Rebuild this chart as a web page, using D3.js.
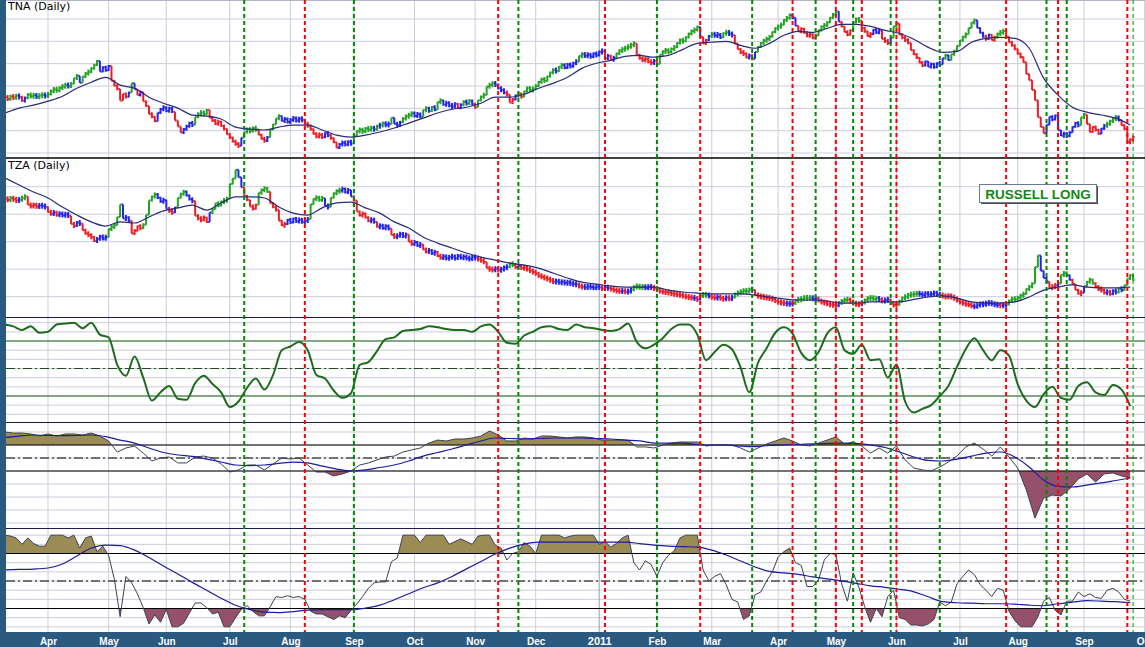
<!DOCTYPE html>
<html>
<head>
<meta charset="utf-8">
<script src="https://cdn.jsdelivr.net/npm/d3@7.9.0/dist/d3.min.js"></script>
<style>
  html, body { margin: 0; padding: 0; background: #fff; }
  svg { display: block; }
</style>
</head>
<body>
<svg id="chart" width="1145" height="647"></svg>
<script>
// ---- data ----
// daily closes, one per trading day starting 2010-03-11
const tnaClose = [
  55.0,54.2,55.3,54.8,55.6,55.1,53.4,54.6,56.2,55.4,
  55.9,55.2,55.7,56.0,55.6,56.3,57.8,58.6,58.0,59.2,
  59.8,60.5,59.9,61.0,63.5,64.6,61.4,64.2,65.6,66.4,
  67.8,69.4,71.2,66.5,68.4,67.1,69.0,62.3,60.1,58.7,
  53.5,56.4,55.2,57.1,61.2,58.6,56.0,57.3,53.2,51.0,
  47.5,46.2,44.2,48.0,49.6,50.4,48.8,49.9,48.5,44.6,
  41.9,39.2,40.6,42.0,43.4,42.6,46.1,47.6,48.0,47.4,
  49.3,45.8,44.6,43.2,44.0,42.1,40.8,38.4,36.9,35.2,
  34.0,33.2,36.8,39.5,40.6,39.8,41.2,40.5,38.2,36.4,
  35.5,37.0,40.5,42.8,45.4,46.6,44.4,45.2,43.9,44.8,
  45.6,44.5,45.3,44.9,43.0,42.2,40.6,38.6,37.4,38.2,
  37.0,38.8,38.0,36.6,34.8,32.4,33.9,34.6,33.8,35.0,
  34.2,37.6,39.8,40.4,39.6,41.0,40.5,41.2,40.6,42.0,
  42.4,43.2,42.6,42.9,45.8,43.0,42.4,43.8,45.5,46.4,
  47.0,47.8,46.6,47.4,46.2,49.2,50.0,48.8,50.6,49.4,
  52.8,53.5,51.6,52.4,51.2,50.8,52.0,50.2,51.6,53.0,
  52.2,53.4,51.8,50.6,53.6,55.2,56.0,59.8,60.4,61.2,
  60.6,59.0,58.2,57.0,56.2,52.6,54.0,55.8,56.4,55.2,
  57.6,59.2,58.0,58.8,60.0,61.8,63.0,62.4,64.2,66.0,
  67.2,66.6,68.6,69.4,68.2,69.6,68.8,70.2,71.0,73.4,
  74.2,73.6,74.0,73.2,74.4,73.8,75.2,75.6,72.4,73.6,
  71.8,72.6,74.6,75.8,76.4,77.0,77.6,78.4,79.0,73.8,
  72.4,71.6,72.2,70.8,70.4,71.2,69.8,74.0,75.4,76.0,
  75.2,76.6,77.4,79.2,80.6,80.0,81.8,83.4,84.6,85.2,
  86.4,82.0,79.0,80.6,82.4,83.2,82.6,83.0,81.8,83.6,
  84.0,83.4,82.8,79.0,76.4,75.0,74.6,72.8,73.6,72.2,
  75.2,77.6,79.2,80.4,81.0,82.0,84.2,85.8,86.6,87.4,
  89.6,90.4,91.8,90.6,87.0,84.4,85.6,83.8,82.6,83.2,
  81.4,82.6,85.0,86.6,87.2,88.4,90.6,92.0,93.4,88.8,
  86.6,84.2,83.0,85.0,88.6,90.0,89.2,86.0,84.4,82.4,
  83.2,85.2,84.0,85.0,81.0,80.2,79.2,81.6,86.8,88.0,
  83.0,81.6,80.6,79.4,76.0,74.2,72.6,70.4,69.2,71.0,
  68.6,69.8,68.4,70.2,69.6,72.4,73.8,71.6,74.2,75.6,
  78.0,80.4,82.0,83.2,86.0,88.4,89.4,86.0,83.8,82.2,
  81.0,83.0,80.6,81.8,83.4,84.0,84.6,82.0,79.6,78.2,
  76.4,74.4,73.0,70.6,65.4,62.6,58.2,53.6,46.0,41.6,
  38.8,42.6,46.2,45.0,46.8,40.2,37.8,38.6,37.6,39.2,
  41.8,43.4,42.4,46.0,47.2,43.0,39.4,41.6,40.4,38.6,
  41.0,42.2,43.0,44.2,45.4,46.0,44.8,42.4,40.6,34.8,
  35.8,37.2
];
const tzaClose = [
  45.6,45.2,45.8,45.4,45.0,45.3,45.9,46.4,43.4,43.0,
  43.4,42.8,43.2,43.0,42.6,40.8,40.2,40.6,39.8,40.2,
  39.6,40.0,39.4,36.4,35.8,37.0,36.6,34.2,33.0,32.4,
  31.6,30.3,31.0,31.8,31.2,31.6,34.6,35.4,36.0,39.0,
  43.5,38.4,38.8,37.6,33.0,34.0,35.6,35.0,36.2,39.8,
  45.0,46.4,47.2,46.0,44.6,45.2,42.0,41.2,40.6,42.4,
  46.0,47.4,48.2,46.8,45.4,44.8,39.4,38.4,38.0,38.8,
  37.2,40.6,41.8,44.0,43.2,44.6,45.0,45.6,51.0,53.0,
  56.2,53.4,49.8,46.6,45.2,42.8,42.0,43.4,47.8,48.8,
  49.4,48.2,44.0,42.6,41.6,37.6,36.0,36.4,38.0,37.0,
  38.4,37.4,38.0,37.2,37.6,38.2,43.6,45.6,46.0,45.2,
  45.8,43.0,42.6,46.0,47.6,48.4,48.6,49.2,48.0,48.8,
  46.4,45.0,41.0,39.6,40.2,38.8,37.6,38.0,37.2,35.4,
  35.8,35.0,35.6,34.8,32.4,31.8,32.2,32.8,32.0,32.6,
  30.0,29.2,29.8,28.6,29.0,27.2,26.4,26.8,25.8,26.2,
  24.8,24.2,24.6,24.0,24.4,24.6,24.0,24.8,24.2,24.5,
  24.0,23.8,24.4,24.2,23.6,23.2,22.6,20.4,20.0,19.8,
  20.2,19.6,20.0,20.6,20.8,22.0,21.6,20.8,21.2,20.4,
  20.6,20.0,19.4,19.0,18.4,17.6,17.2,16.8,16.4,16.0,
  15.4,15.6,15.2,15.4,15.0,15.2,14.8,14.6,14.4,13.8,
  13.6,13.4,13.7,13.5,13.3,13.6,13.4,13.0,13.4,13.2,
  12.8,12.4,12.2,12.0,12.1,11.8,11.9,12.6,13.6,13.8,
  13.4,13.6,13.2,13.6,13.4,13.0,12.6,12.0,11.8,11.6,
  11.5,11.2,11.0,10.8,10.6,10.2,10.0,9.8,9.6,9.4,
  9.0,10.4,10.8,10.6,10.2,9.8,9.6,9.9,9.4,9.2,
  9.6,9.3,9.8,11.0,11.4,11.8,12.2,12.0,12.6,12.4,
  10.6,10.2,10.0,9.8,9.6,9.4,9.2,8.4,8.0,7.8,
  7.6,7.5,7.4,7.6,8.6,9.0,9.2,9.6,9.4,9.6,
  9.2,9.3,8.6,8.0,7.8,7.4,7.2,7.0,6.8,7.8,
  8.4,8.8,9.0,8.2,7.6,7.2,7.4,7.8,8.8,9.4,
  9.6,9.2,9.4,9.0,8.4,8.8,9.0,7.4,7.0,7.2,
  8.4,9.6,10.0,10.6,10.8,11.0,11.2,11.0,10.6,11.2,
  10.8,11.0,11.4,10.8,10.6,10.2,10.0,10.4,9.8,9.4,
  8.6,8.0,7.6,7.3,7.2,6.6,6.4,7.0,7.4,7.2,
  7.6,7.8,7.4,7.2,7.0,6.8,7.0,7.2,8.6,9.2,
  9.0,9.6,10.4,11.0,12.8,13.6,14.8,20.8,25.0,19.4,
  16.8,15.4,13.2,13.6,14.2,14.8,18.0,18.6,17.8,16.2,
  14.6,12.4,11.2,11.4,13.8,15.4,16.2,14.8,13.6,12.8,
  12.4,11.4,11.8,11.0,12.2,11.6,13.0,12.4,14.2,16.6,
  17.8,16.1
];

// moving averages, one value every maStep trading days
const maStep = 5;
const tnaMA = [
  47.9,50.1,51.4,53.2,55.4,59.0,61.7,63.9,60.4,59.0,
  55.0,52.3,50.1,47.0,46.5,45.2,41.6,40.7,40.3,41.6,
  42.5,42.5,40.3,38.0,37.1,38.0,39.4,41.2,43.4,45.6,
  47.9,49.6,50.5,52.3,55.0,55.0,56.3,59.0,61.2,63.9,
  67.9,70.2,71.5,73.3,73.7,72.9,73.7,76.4,79.1,79.6,
  80.0,78.2,76.9,79.1,82.7,84.5,84.0,85.8,87.6,87.6,
  86.7,84.9,83.6,80.9,77.3,75.1,75.5,79.6,81.3,81.8,
  81.3,76.9,63.5,55.9,50.5,48.3,47.0,45.6,42.5
];
const tzaMA = [
  53.2,50.6,48.1,45.9,42.6,39.7,37.2,35.7,37.2,36.8,
  39.0,41.2,42.3,43.3,41.5,44.1,46.3,46.3,45.9,42.6,
  40.4,39.7,42.3,44.1,44.4,42.3,40.4,37.2,35.0,31.7,
  29.5,27.7,25.9,24.4,23.3,22.2,21.5,20.4,18.6,16.8,
  15.3,14.6,13.9,13.5,13.5,13.5,12.4,11.7,11.3,11.0,
  11.0,11.0,10.6,9.9,9.2,8.8,8.8,8.4,7.7,7.7,
  8.1,8.1,8.1,9.0,9.9,10.3,9.5,8.1,7.7,7.7,
  8.1,9.9,12.4,13.5,14.3,13.5,13.2,13.2,13.5
];

// smoothed oscillator (0-100), one value every oscStep days
const oscStep = 3;
const osc = [
  98,96,92,96,89,90,98,99,100,94,
  100,87,84,54,42,63,40,15,24,31,
  17,16,34,42,33,24,8,14,29,39,
  27,43,70,74,79,70,43,39,26,18,
  23,54,57,69,82,84,91,92,93,96,
  95,93,92,92,90,96,98,90,78,77,
  86,90,95,96,93,92,98,95,94,92,
  91,93,99,79,72,76,83,93,98,98,
  87,59,68,76,71,51,24,56,72,89,
  95,88,67,59,68,88,95,70,66,76,
  59,60,40,54,14,2,6,10,20,31,
  52,71,83,70,59,70,64,33,15,8,
  22,30,18,16,31,35,24,21,32,27,
  9
];

// commodity-channel style indicator, every cciStep days; signal every 5 days
const cciStep = 3;
const cci = [
  200,192,192,185,169,185,169,185,185,177,
  192,169,131,46,77,92,38,-23,0,8,
  -38,-38,8,15,0,-46,-108,-92,-54,-54,
  -92,-46,0,-8,0,-54,-108,-108,-138,-123,
  -100,-54,-38,-15,8,15,46,62,77,115,
  138,131,146,146,154,169,208,177,131,131,
  154,146,169,169,162,154,162,162,154,138,
  138,138,138,85,85,77,100,115,123,123,
  123,92,100,100,100,77,46,77,108,131,
  154,131,100,92,115,138,162,108,123,92,
  38,77,38,92,-15,-77,-92,-100,-69,-31,
  15,85,115,69,15,85,8,-77,-246,-462,
  -308,-285,-292,-238,-162,-123,-185,-123,-115,-138,
  -154
];
const sigStep = 5;
const cciSignal = [
  158,169,177,173,172,173,177,165,138,115,
  77,42,23,12,-8,-31,-54,-58,-54,-42,
  -31,-38,-62,-85,-100,-92,-73,-54,-23,15,
  42,69,100,131,154,150,146,150,154,154,
  154,150,146,138,131,115,115,115,104,100,
  100,92,88,96,100,104,108,112,115,112,
  100,81,46,8,-19,-23,-8,15,38,46,
  8,-69,-169,-219,-223,-208,-192,-173,-154
];

// stochastic (0-100), every stochStep days; signal every 5 days
const stochStep = 2;
const stoch = [
  100,99,97,90,97,91,88,88,100,100,
  100,97,100,86,97,99,82,88,78,52,
  11,55,48,36,21,3,13,5,19,0,
  0,4,15,26,26,21,14,16,0,0,
  10,19,23,17,12,12,22,33,32,34,
  32,33,30,17,14,14,11,8,12,10,
  18,25,33,42,48,49,49,71,75,100,
  100,100,92,100,100,100,100,90,93,96,
  93,90,99,100,100,89,86,73,80,82,
  92,88,80,100,100,100,100,97,99,100,
  100,100,100,90,93,87,91,97,100,70,
  62,72,68,55,70,78,83,97,100,100,
  100,62,50,55,58,46,30,27,8,12,
  35,38,50,60,76,82,86,70,67,44,
  44,51,73,80,79,47,28,59,43,22,
  5,20,11,33,40,10,8,2,2,1,
  3,8,27,23,27,47,55,62,57,46,
  40,33,42,40,17,7,0,0,0,11,
  28,32,18,13,28,28,38,33,36,32,
  31,40,42,38,30,28
];
const stochSignal = [
  62,62.6,63,64.2,68.6,77.2,86,89.2,88.6,83.7,
  75.6,66.4,57.7,48.5,39.9,31.2,23.6,18.7,16,15.5,
  16.6,18.2,18.7,18.7,18.7,20.4,23.6,29.6,36.1,42.6,
  48,55,63.2,71.3,79.4,85.9,90.2,92.4,92.4,92.4,
  92.4,92.4,92.4,92.4,90.8,89.2,88.1,87.5,87,83.7,
  78.3,71.8,65.3,60.5,58.8,57.2,54.5,52.3,50.2,47.5,
  44.7,43.1,41,38.2,32.8,27.4,26.3,25.8,25.2,25.2,
  24.7,23.6,23,25.2,26.9,28.5,28,27.4,26.3
];

// trade signals (trading-day index)
const buySignals = [83,121,178,226,259,281,294,307,324,361,368,391];
const sellSignals = [104,171,208,241,273,288,297,309,347,365,389];

const tickLabels = ["Apr","May","Jun","Jul","Aug","Sep","Oct","Nov","Dec","2011",
                    "Feb","Mar","Apr","May","Jun","Jul","Aug","Sep","Oct"];
const holidays = ["2010-04-02","2010-05-31","2010-07-05","2010-09-06","2010-11-25","2010-12-24",
                  "2011-01-17","2011-02-21","2011-04-22","2011-05-30","2011-07-04","2011-09-05"];

// ---- layout ----
const W = 1145, H = 647, plotL = 6, bandTop = 632;
const svg = d3.select("#chart");
const defs = svg.append("defs");

const iso = d3.utcFormat("%Y-%m-%d");
const tradingDays = d3.utcDays(new Date(Date.UTC(2010, 2, 11)), new Date(Date.UTC(2011, 9, 5)))
  .filter(d => d.getUTCDay() !== 0 && d.getUTCDay() !== 6 && !holidays.includes(iso(d)));
const monthStarts = d3.range(1, tradingDays.length)
  .filter(i => tradingDays[i].getUTCMonth() !== tradingDays[i - 1].getUTCMonth());

const x = d3.scaleLinear().domain([0, tnaClose.length - 1]).range([4.7, 1133.1]);

const panels = [
  { top: 0, bottom: 158 },
  { top: 158, bottom: 317 },
  { top: 317, bottom: 422 },
  { top: 422, bottom: 528 },
  { top: 528, bottom: bandTop }
];
const yTna = d3.scaleLinear().domain([30, 90]).range([153, 19]);
const yTza = d3.scaleLinear().domain([10, 50]).range([296.7, 186.7]);
const yOsc = d3.scaleLinear().domain([20, 80]).range([396, 341]);
const yCci = d3.scaleLinear().domain([-100, 100]).range([471, 445]);
const ySto = d3.scaleLinear().domain([20, 80]).range([608.5, 553.5]);

const col = {
  grid: "#ccccdc", gridYear: "#9a9aae", navy: "#1b1b52",
  up: "#22a322", down: "#ee1c24", flat: "#2424ee",
  ma: "#2a2a7a", osc: "#1e6b1e", ind: "#3c4250", sig: "#1c1ca0",
  olive: "#9a8c54", maroon: "#95506a", frame: "#2b5a80"
};

svg.append("rect").attr("width", W).attr("height", H).attr("fill", "#fff");

// horizontal grid per panel
const gridRows = [
  [yTna, d3.range(30, 100, 10)],
  [yTza, d3.range(10, 60, 10)],
  [yOsc, d3.range(0, 101, 10)],
  [yCci, d3.range(-500, 201, 100)],
  [ySto, d3.range(0, 101, 10)]
];
const gGrid = svg.append("g");
gridRows.forEach(([y, ticks], k) => {
  const p = panels[k];
  gGrid.selectAll(null).data(ticks.map(y).filter(v => v > p.top + 1 && v < p.bottom - 1))
    .join("line")
    .attr("x1", plotL).attr("x2", W).attr("y1", d => d).attr("y2", d => d)
    .attr("stroke", col.grid).attr("stroke-width", 1);
});
// vertical month grid
gGrid.selectAll(null).data(monthStarts).join("line")
  .attr("x1", d => x(d)).attr("x2", d => x(d)).attr("y1", 0).attr("y2", bandTop)
  .attr("stroke", d => tradingDays[d].getUTCMonth() === 0 ? col.gridYear : col.grid)
  .attr("stroke-width", 1);
svg.append("line").attr("x1", plotL).attr("x2", W).attr("y1", 0.5).attr("y2", 0.5)
  .attr("stroke", "#b4b4c4");

// clip groups per panel
const panelG = panels.map((p, k) => {
  defs.append("clipPath").attr("id", "clip" + k).append("rect")
    .attr("x", plotL).attr("y", p.top).attr("width", W - plotL).attr("height", p.bottom - p.top);
  return svg.append("g").attr("clip-path", `url(#clip${k})`);
});

// ---- price bars (elder impulse colouring) ----
function ema(arr, n) {
  const k = 2 / (n + 1), out = [];
  arr.forEach((v, i) => out.push(i ? out[i - 1] + k * (v - out[i - 1]) : v));
  return out;
}
function impulse(close) {
  const e13 = ema(close, 13), e12 = ema(close, 12), e26 = ema(close, 26);
  const macd = e12.map((v, i) => v - e26[i]);
  const sig = ema(macd, 9);
  const hist = macd.map((v, i) => v - sig[i]);
  return close.map((c, i) => {
    if (!i) return col.flat;
    const a = e13[i] > e13[i - 1], b = hist[i] > hist[i - 1];
    if (a && b) return col.up;
    if (!a && !b) return col.down;
    return col.flat;
  });
}
function drawBars(g, close, y) {
  const colors = impulse(close);
  const bars = close.map((c, i) => ({ i, o: i ? close[i - 1] : c, c, color: colors[i] }));
  g.selectAll("path.bar").data(bars).join("path")
    .attr("class", "bar")
    .attr("fill", "none")
    .attr("stroke", d => d.color)
    .attr("stroke-width", 2)
    .attr("d", d => {
      const xi = x(d.i);
      let y1 = y(Math.max(d.o, d.c)), y2 = y(Math.min(d.o, d.c));
      if (y2 - y1 < 6) { const m = (y1 + y2) / 2; y1 = m - 3; y2 = m + 3; }
      return `M${xi},${y1}V${y2}M${xi - 1.4},${y(d.o)}H${xi}M${xi},${y(d.c)}H${xi + 1.4}`;
    });
}
const lineFor = (y, step, curve) => d3.line().x((d, i) => x(i * step)).y(d => y(d)).curve(curve);

drawBars(panelG[0], tnaClose, yTna);
panelG[0].append("path").attr("fill", "none").attr("stroke", col.ma).attr("stroke-width", 1.2)
  .attr("d", lineFor(yTna, maStep, d3.curveMonotoneX)(tnaMA));
drawBars(panelG[1], tzaClose, yTza);
panelG[1].append("path").attr("fill", "none").attr("stroke", col.ma).attr("stroke-width", 1.2)
  .attr("d", lineFor(yTza, maStep, d3.curveMonotoneX)(tzaMA));

// ---- oscillator panel ----
function hline(g, yv, color, dash, w) {
  g.append("line").attr("x1", plotL).attr("x2", W).attr("y1", yv).attr("y2", yv)
    .attr("stroke", color).attr("stroke-width", w || 1)
    .attr("stroke-dasharray", dash || null);
}
const dashDot = "9,3,2,3";
hline(panelG[2], yOsc(80), col.osc);
hline(panelG[2], yOsc(20), col.osc);
hline(panelG[2], yOsc(50), "#1e4a1e", dashDot);
panelG[2].append("path").attr("fill", "none").attr("stroke", col.osc).attr("stroke-width", 2)
  .attr("d", lineFor(yOsc, oscStep, d3.curveMonotoneX)(osc));

// ---- filled indicator panels ----
function thresholdFill(g, data, step, y, thr, above, color, id, p) {
  const yt = y(thr);
  defs.append("clipPath").attr("id", id).append("rect")
    .attr("x", 0).attr("width", W)
    .attr("y", above ? p.top : yt).attr("height", above ? yt - p.top : p.bottom - yt);
  g.append("path").attr("clip-path", `url(#${id})`).attr("fill", color)
    .attr("d", d3.area().x((d, i) => x(i * step)).y0(yt).y1(d => y(d))(data));
}
thresholdFill(panelG[3], cci, cciStep, yCci, 100, true, col.olive, "cciUp", panels[3]);
thresholdFill(panelG[3], cci, cciStep, yCci, -100, false, col.maroon, "cciDn", panels[3]);
hline(panelG[3], yCci(100), "#000");
hline(panelG[3], yCci(-100), "#000");
hline(panelG[3], yCci(0), "#000", dashDot);
panelG[3].append("path").attr("fill", "none").attr("stroke", col.ind).attr("stroke-width", 1)
  .attr("d", lineFor(yCci, cciStep, d3.curveLinear)(cci));
panelG[3].append("path").attr("fill", "none").attr("stroke", col.sig).attr("stroke-width", 1.2)
  .attr("d", lineFor(yCci, sigStep, d3.curveMonotoneX)(cciSignal));

thresholdFill(panelG[4], stoch, stochStep, ySto, 80, true, col.olive, "stoUp", panels[4]);
thresholdFill(panelG[4], stoch, stochStep, ySto, 20, false, col.maroon, "stoDn", panels[4]);
hline(panelG[4], ySto(80), "#000");
hline(panelG[4], ySto(20), "#000");
hline(panelG[4], ySto(50), "#000", dashDot);
panelG[4].append("path").attr("fill", "none").attr("stroke", col.ind).attr("stroke-width", 1)
  .attr("d", lineFor(ySto, stochStep, d3.curveLinear)(stoch));
panelG[4].append("path").attr("fill", "none").attr("stroke", col.sig).attr("stroke-width", 1.2)
  .attr("d", lineFor(ySto, sigStep, d3.curveMonotoneX)(stochSignal));

// panel borders
svg.append("line").attr("x1", plotL).attr("x2", W).attr("y1", 158).attr("y2", 158)
  .attr("stroke", "#000").attr("stroke-width", 1.5);
[317, 422, 528].forEach(v => hline(svg, v + 0.5, col.navy));

// ---- signal lines ----
const lastBar = tnaClose.length - 1;
svg.append("g").selectAll("line")
  .data(sellSignals.map(i => ({ i, c: "#ff0000" })).concat(buySignals.map(i => ({ i, c: "#008a00" }))))
  .join("line")
  .attr("x1", d => x(d.i)).attr("x2", d => x(d.i)).attr("y1", 0).attr("y2", bandTop)
  .attr("stroke", d => d.c).attr("stroke-width", d => d.i === lastBar ? 1 : 2)
  .attr("stroke-dasharray", "4,3");

// ---- titles ----
const title = (t, yv) => svg.append("text").attr("x", 8).attr("y", yv).text(t)
  .attr("font-family", "'DejaVu Sans', Verdana, sans-serif").attr("font-size", 11).attr("fill", "#000");
title("TNA (Daily)", 10);
title("TZA (Daily)", 169);

// label box
const box = svg.append("g").attr("transform", "translate(979,184)");
box.append("rect").attr("x", 2).attr("y", 2).attr("width", 117).attr("height", 18).attr("fill", "#4a4a4a");
box.append("rect").attr("x", 0.5).attr("y", 0.5).attr("width", 117).attr("height", 18)
  .attr("fill", "#fff").attr("stroke", "#6c7c8c");
box.append("text").attr("x", 59).attr("y", 14.5).attr("text-anchor", "middle")
  .attr("font-family", "'Liberation Sans', Arial, sans-serif").attr("font-weight", "bold")
  .attr("font-size", 13.5).attr("fill", "#108a10").text("RUSSELL LONG");

// ---- frame and month axis ----
svg.append("rect").attr("x", 0).attr("y", 0).attr("width", plotL).attr("height", H).attr("fill", col.frame);
svg.append("rect").attr("x", 0).attr("y", bandTop).attr("width", W).attr("height", H - bandTop).attr("fill", col.frame);
const axis = d3.axisBottom(x).tickValues(monthStarts)
  .tickFormat((d, i) => tickLabels[i]).tickSize(0).tickPadding(0);
const gAxis = svg.append("g").attr("transform", `translate(0,${bandTop})`).call(axis);
gAxis.select(".domain").remove();
gAxis.attr("font-family", "'Liberation Sans', Arial, sans-serif");
gAxis.selectAll("text")
  .attr("dy", 0).attr("y", 13.3)
  .attr("fill", "#fff").attr("font-weight", "bold")
  .attr("font-size", (d, i) => tickLabels[i] === "2011" ? 11 : 10);
</script>
</body>
</html>
